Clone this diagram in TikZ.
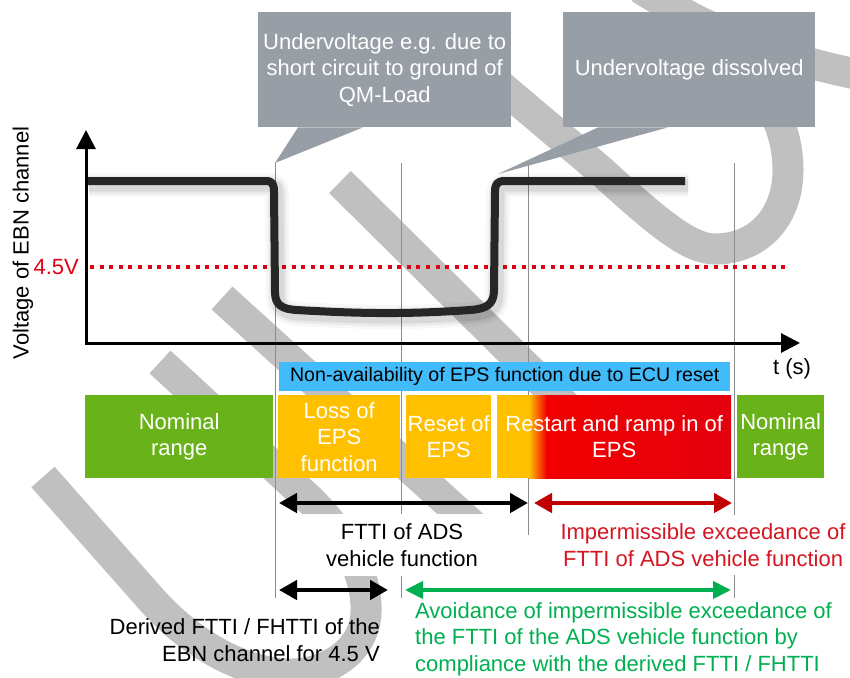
\documentclass[tikz,border=0pt]{standalone}
\usepackage{fontspec}
\setmainfont{Liberation Sans}
\usetikzlibrary{arrows.meta}

\definecolor{callgray}{RGB}{152,158,166}
\definecolor{wmgray}{RGB}{192,192,192}
\definecolor{barblue}{RGB}{66,187,250}
\definecolor{nomgreen}{RGB}{106,178,26}
\definecolor{lossorange}{RGB}{255,192,0}
\definecolor{epsred}{RGB}{242,0,0}
\definecolor{epsredtwo}{RGB}{228,0,14}
\definecolor{darkred}{RGB}{192,0,0}
\definecolor{txtred}{RGB}{214,22,34}
\definecolor{okgreen}{RGB}{0,176,80}
\definecolor{sigblack}{RGB}{38,38,38}
\definecolor{guidegray}{RGB}{140,140,140}
\definecolor{dotred}{RGB}{226,0,20}

% the voltage trace of the EBN channel
\def\sigpath{(86,181) -- (266,181) .. controls (273,181) and (274,185) .. (274,192)
  -- (275,292) .. controls (275,305) and (282,309) .. (296,310)
  .. controls (350,313) and (400,315) .. (470,310)
  .. controls (487,309) and (494,304) .. (494,290)
  -- (495,192) .. controls (495,184) and (497,181) .. (505,181) -- (685,181)}

\begin{document}
\begin{tikzpicture}[x=1pt,y=-1pt,
  lbl/.style={font=\fontsize{22}{26.5}\selectfont, align=center, inner sep=0pt},
  phasebox/.style={lbl, text=white, minimum height=83pt, inner sep=0pt, anchor=north west},
  callbox/.style={lbl, text=white, fill=callgray, minimum height=115pt, inner sep=0pt, anchor=north west},
  wmark/.style={wmgray, line width=31pt},
  guide/.style={guidegray, line width=0.8pt},
  axis/.style={line width=3pt, -{Triangle[length=19pt,width=19pt]}},
  span/.style={line width=4.5pt, {Triangle[length=18pt,width=19pt]}-{Triangle[length=18pt,width=19pt]}},
  shadowline/.style={black, line join=round, shift={(3,4)}}
]
\useasboundingbox (0,0) rectangle (850,677);

% background watermark strokes
\draw[wmark] (43,477) -- (150,598) .. controls (200,655) and (265,682) .. (310,672)
  .. controls (350,662) and (368,635) .. (366,605) .. controls (364,565) and (340,530) .. (310,500)
  -- (160,362);
\draw[wmark] (222,298) -- (500,550);
\draw[wmark] (340,182) -- (580,420);
\draw[wmark] (470,60) -- (600,170) .. controls (660,225) and (690,249) .. (715,249)
  .. controls (760,249) and (788,215) .. (788,170) .. controls (788,130) and (770,95) .. (740,70);
\draw[wmark] (640,-12) .. controls (720,38) and (780,58) .. (860,75);

% time markers
\draw[guide] (275,163) -- (275,598);
\draw[guide] (401,163) -- (401,598);
\draw[guide] (528,163) -- (528,535);
\draw[guide] (734,163) -- (734,598);

% 4.5 V threshold
\draw[dotred, line width=4pt, dash pattern=on 4pt off 5.6pt] (90,267) -- (788,267);
\node[lbl, text=dotred, anchor=east] (thr) at (79,267) {4.5V};

% voltage trace with its soft shadow
\draw[shadowline, line width=24pt, opacity=0.03] \sigpath;
\draw[shadowline, line width=18pt, opacity=0.05] \sigpath;
\draw[shadowline, line width=13pt, opacity=0.07] \sigpath;
\draw[sigblack, line width=8pt, line join=round] \sigpath;

% axes
\coordinate (origin) at (86,343);
\coordinate (ytop) at (86,130);
\coordinate (xend) at (800,343);
\draw[axis] ([yshift=1.5pt]origin) -- (ytop);
\draw[axis] ([xshift=-1.5pt]origin) -- (xend);
\node[lbl, rotate=90] (ylab) at (23,243) {Voltage of EBN channel};
\node[lbl] (tlab) at (792,369) {t (s)};

% callouts
\node[callbox, minimum width=253pt] (c1) at (258,12) {Undervoltage e.g. due to\\short circuit to ground of\\QM-Load};
\coordinate (tip1) at (275,163);
\fill[callgray] ([xshift=40pt]c1.south west) -- (tip1) -- ([xshift=105pt]c1.south west) -- cycle;
\node[callbox, minimum width=252pt] (c2) at (563,12) {Undervoltage dissolved};
\coordinate (tip2) at (498,174);
\fill[callgray] ([xshift=35pt]c2.south west) -- (tip2) -- ([xshift=105pt]c2.south west) -- cycle;

% phases
\node[lbl, fill=barblue, minimum width=451pt, minimum height=29pt, anchor=north west,
  font=\fontsize{19.6}{24}\selectfont] (bar) at (279,362) {Non-availability of EPS function due to ECU reset};
\node[phasebox, fill=nomgreen, minimum width=188pt] (nom1) at (85,395) {Nominal\\range};
\node[phasebox, fill=lossorange, minimum width=122pt] (loss) at (278,395) {Loss of\\EPS\\function};
\node[phasebox, fill=lossorange, minimum width=85pt] (reset) at (406,395) {Reset of\\EPS};
\fill[lossorange] (497,395) rectangle (530,478);
\shade[left color=lossorange, right color=epsred] (529,395) rectangle (547,478);
\shade[left color=epsred, right color=epsredtwo] (546,395) rectangle (731,478);
\node[phasebox, minimum width=234pt] (restart) at (497,395) {Restart and ramp in of\\EPS};
\node[phasebox, fill=nomgreen, minimum width=87pt] (nom2) at (737,395) {Nominal\\range};

% time intervals
\coordinate (f1) at (279,503);
\coordinate (f2) at (528,503);
\coordinate (r1) at (534,503);
\coordinate (r2) at (732,503);
\coordinate (d1) at (279,590);
\coordinate (d2) at (388,590);
\coordinate (g1) at (405,590);
\coordinate (g2) at (731,590);
\draw[span] (f1) -- (f2);
\draw[span, darkred] (r1) -- (r2);
\draw[span] (d1) -- (d2);
\draw[span, okgreen, line width=4pt, {Triangle[length=18pt,width=17pt]}-{Triangle[length=18pt,width=17pt]}] (g1) -- (g2);

% interval captions
\node[lbl, fill=white, minimum width=240pt, minimum height=62pt] (fttil) at (402,545) {FTTI of ADS\\vehicle function};
\node[lbl, fill=white, text=txtred, minimum height=60pt] (impl) at (703,545) {Impermissible exceedance of\\FTTI of ADS vehicle function};
\node[lbl, align=right, anchor=east] (derl) at (380,640) {Derived FTTI / FHTTI of the\\EBN channel for 4.5 V};
\node[lbl, align=left, anchor=west, text=okgreen] (avl) at (415,639) {Avoidance of impermissible exceedance of\\the FTTI of the ADS vehicle function by\\compliance with the derived FTTI / FHTTI};
\end{tikzpicture}
\end{document}
